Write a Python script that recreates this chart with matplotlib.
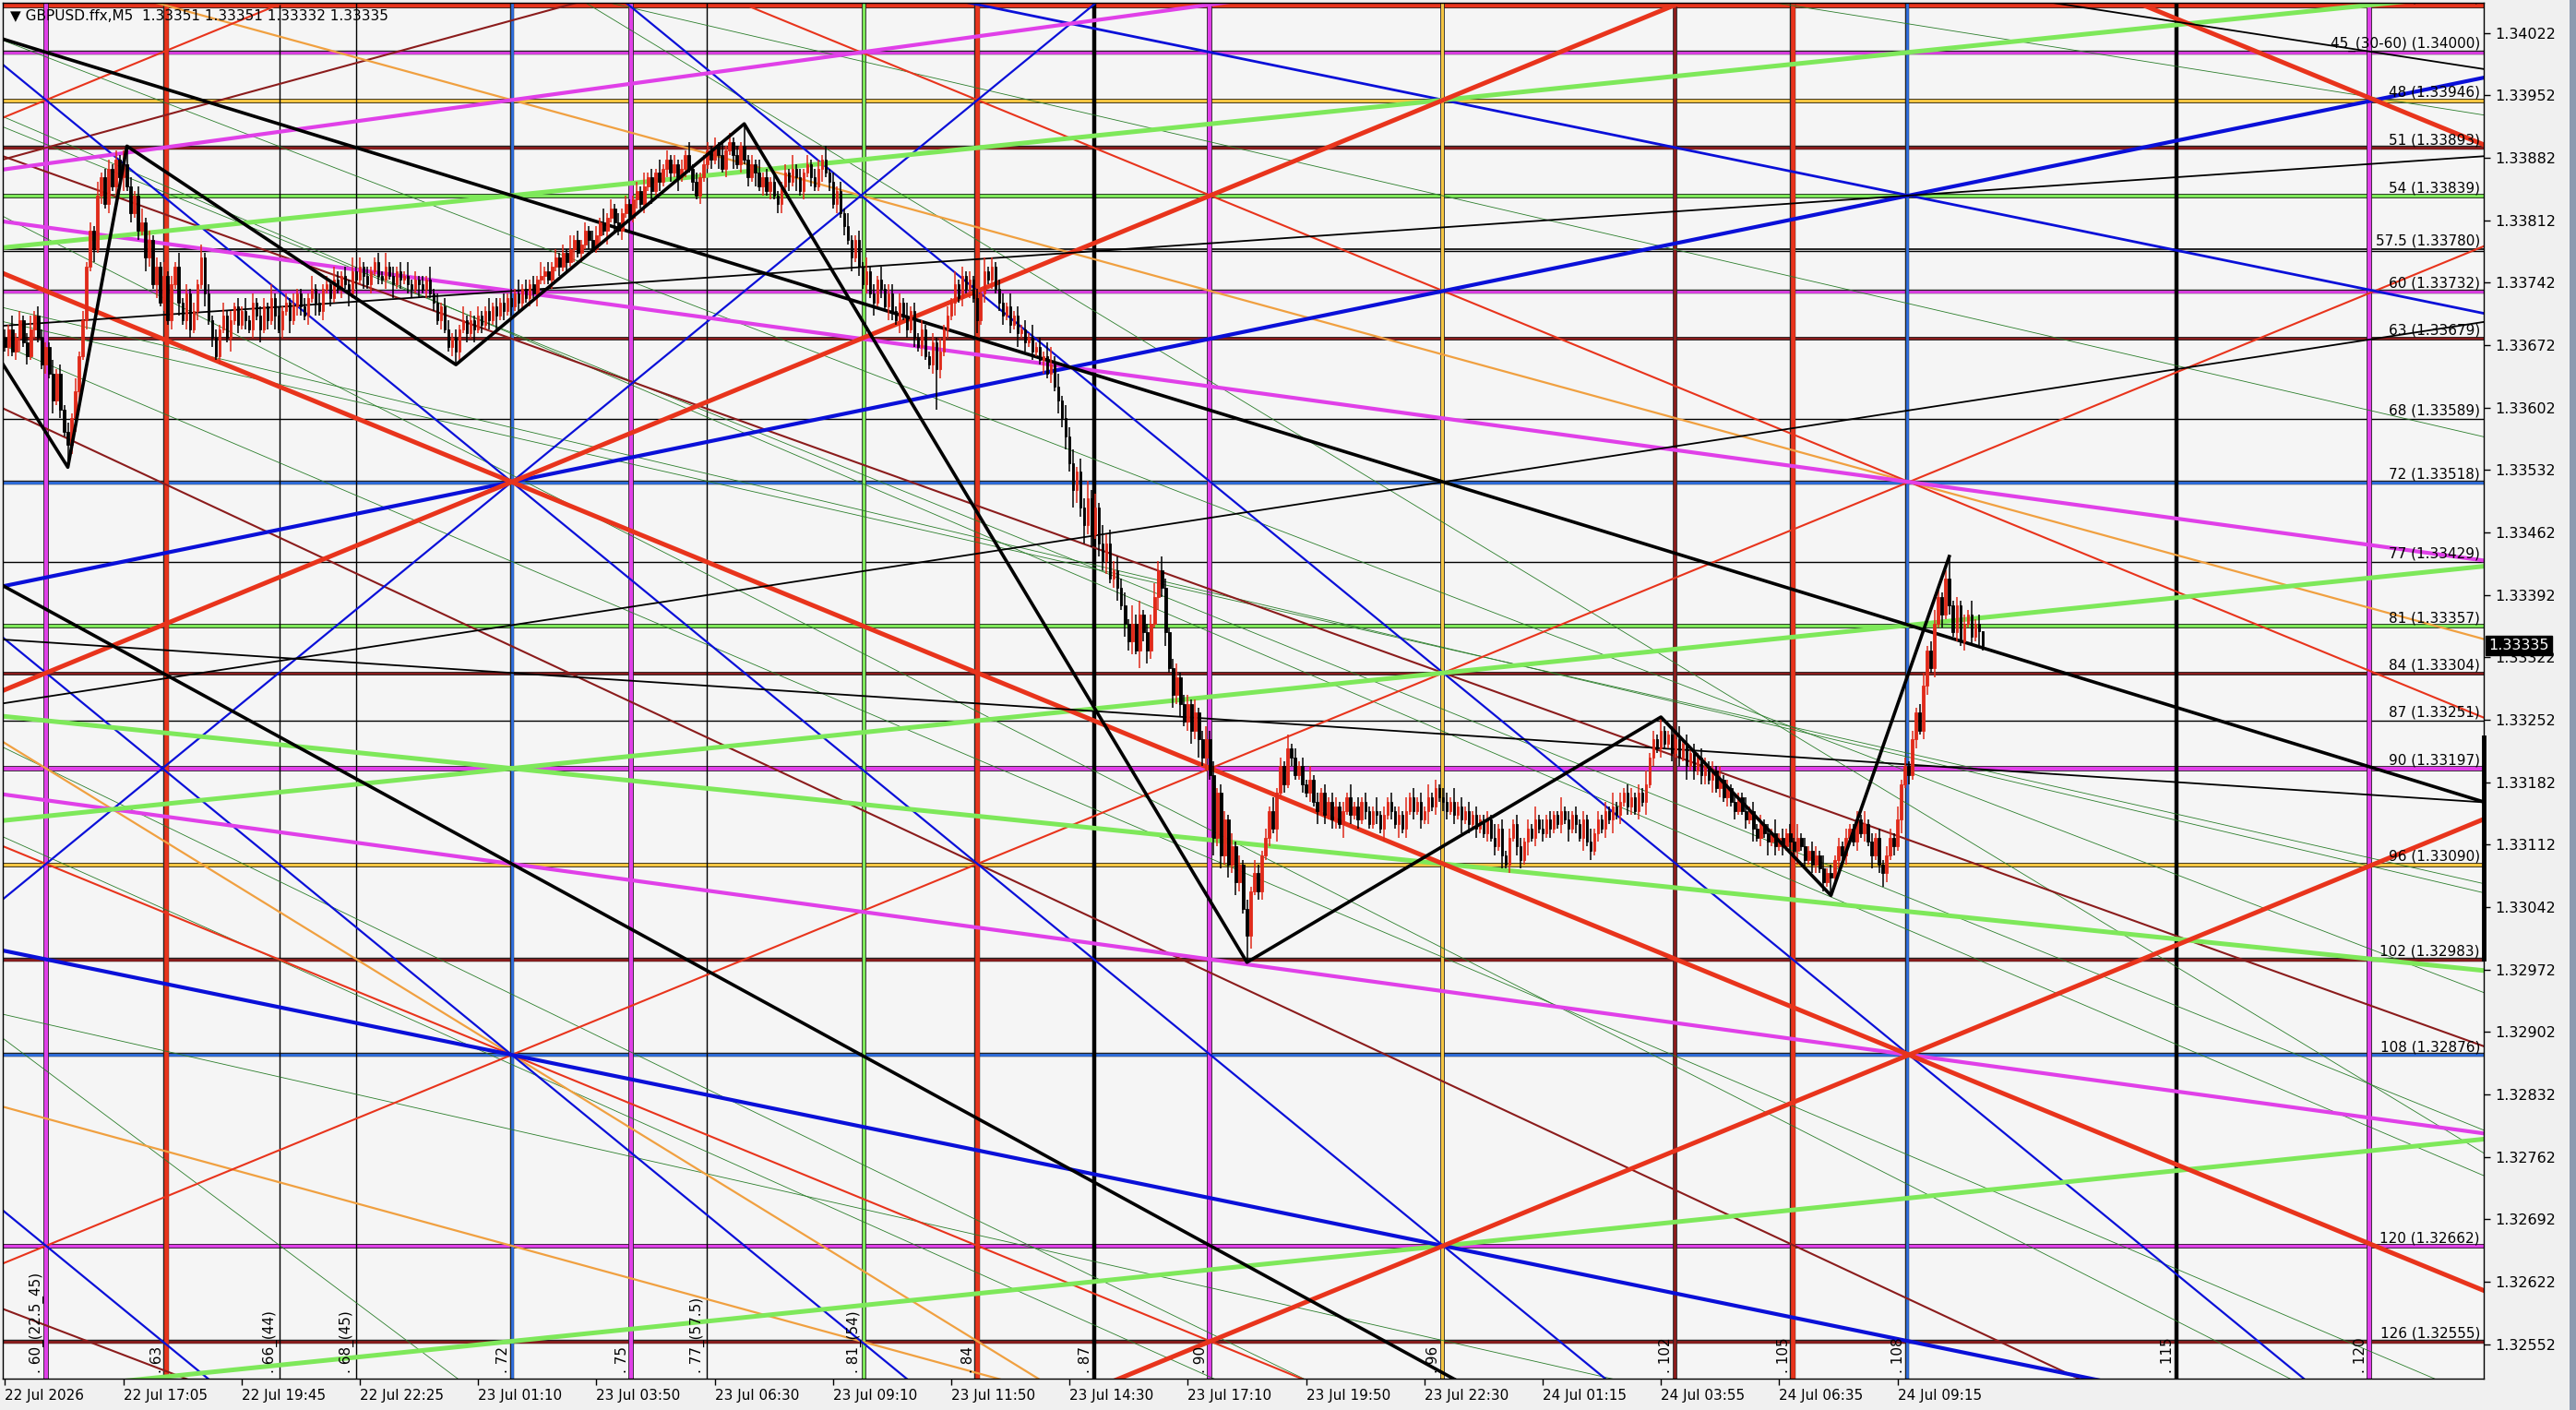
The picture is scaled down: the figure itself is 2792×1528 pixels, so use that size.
import numpy as np
import matplotlib
matplotlib.use("Agg")
import matplotlib.pyplot as plt
from matplotlib import patheffects as pe
from matplotlib.patches import Rectangle
from matplotlib.transforms import blended_transform_factory

# ---- GBPUSD M5 candles, closes in points above 1.33000 ----
open0 = 680
closes = [
    670, 690, 665, 680, 700, 675, 660, 690, 705, 680,
    650, 670, 640, 610, 640, 600, 575, 560, 590, 620,
    660, 700, 760, 800, 780, 840, 860, 830, 870, 850,
    880, 860, 875, 850, 820, 840, 800, 810, 770, 790,
    740, 760, 720, 750, 700, 740, 760, 720, 700, 730,
    690, 710, 740, 770, 730, 700, 680, 660, 690, 705,
    680, 700, 715, 695, 710, 700, 690, 720, 705, 690,
    715, 700, 725, 705, 690, 710, 720, 700, 715, 730,
    715, 705, 725, 735, 720, 710, 735, 740, 725, 745,
    735, 750, 740, 730, 755, 745, 760, 750, 740, 755,
    765, 750, 745, 760, 750, 740, 755, 745, 750, 740,
    735, 745, 740, 735, 745, 730, 720, 700, 715, 690,
    670, 680, 665, 690, 700, 685, 700, 690, 705, 695,
    710, 700, 715, 705, 720, 710, 725, 715, 730, 720,
    735, 725, 740, 730, 745, 750, 755, 745, 760, 770,
    760, 775, 765, 780, 790, 775, 785, 800, 790, 780,
    795, 810, 800, 815, 825, 810, 800, 820, 830, 815,
    835, 845, 830, 850, 860, 845, 865, 855, 870, 880,
    865, 875, 860, 870, 885, 870, 855, 840, 860, 875,
    890, 880, 895, 885, 870, 890, 900, 885, 875, 895,
    880, 860, 875, 865, 850, 860, 845, 855, 840, 830,
    850, 865, 855, 870, 860, 845, 865, 875, 860, 850,
    870, 880, 865, 855, 830, 845, 820, 805, 790, 770,
    790, 760, 740, 755, 730, 720, 745, 735, 715, 730,
    710, 700, 720, 705, 690, 710, 680, 670, 690, 660,
    650, 675, 645, 665, 690, 705, 720, 740, 725, 750,
    735, 745, 725, 700, 730, 755, 745, 760, 735, 720,
    705, 715, 695, 705, 685, 690, 675, 680, 665, 670,
    655, 660, 640, 650, 625, 610, 590, 570, 540, 510,
    530, 490, 470, 500, 460, 490, 450, 430, 450, 410,
    420, 400, 380, 360, 340, 360, 330, 370, 350, 330,
    360, 390, 420, 400, 350, 310, 280, 300, 270, 250,
    270, 240, 260, 230, 210, 230, 190, 120, 170, 100,
    140, 90, 110, 70, 90, 40, 10, 60, 80, 60,
    100, 120, 150, 130, 170, 200, 180, 220, 210, 190,
    200, 180, 170, 185, 160, 150, 170, 145, 160, 140,
    155, 135, 150, 165, 145, 155, 140, 160, 150, 135,
    150, 145, 130, 145, 160, 150, 135, 145, 130, 150,
    165, 150, 160, 140, 150, 165, 155, 175, 165, 160,
    150, 160, 145, 155, 140, 150, 135, 145, 130, 140,
    125, 140, 120, 110, 130, 100, 90, 120, 135, 110,
    95, 115, 130, 120, 140, 130, 125, 140, 130, 145,
    135, 150, 140, 130, 145, 135, 120, 140, 115, 105,
    125, 140, 130, 150, 140, 155, 145, 160, 170, 155,
    165, 150, 170, 160, 180, 210, 230, 220, 240, 225,
    235, 215, 230, 210, 225, 200, 215, 195, 210, 190,
    200, 185, 195, 175, 185, 165, 175, 160, 150, 165,
    150, 140, 150, 130, 120, 135, 125, 115, 125, 110,
    120, 110, 125, 115, 105, 120, 110, 95, 105, 90,
    100, 85, 70, 80, 75, 95, 110, 100, 120, 130,
    115, 140, 125, 135, 115, 100, 120, 90, 80, 100,
    120, 110, 140, 180, 200, 190, 230, 260, 240, 290,
    330, 310, 360, 390, 370, 410, 380, 350, 380, 340,
    360, 370, 345, 360, 351, 335,
]
# wick lengths, one digit per bar, in units of 5 points
upper_wicks = """
2131212312 2113121213 1212131221 2134212312 1213121312
1213121213 1212131212 2131212131 1213121213 2121312121
1213121213 1212131212 2121312121 1312121213 1212131212
1213121212 2131212121 1213121312 1212131212 2121312121
5121312121 1213121212 2131212131 1213121312 2121312121
1213121312 1212131212 2131212131 2134231323 1324231423
2323142312 2323212312 2131232312 2131212132 1213121312
1213121212 2121312121 1312121213 1212131212 2131212121
1213121212 2121312121 1312121213 1212131212 2121312131
1213121212 2121312121 1312121213 1212131212 2131212121
1213121212 2131212123 1232125121 213120
"""
lower_wicks = """
1212312121 1213121523 2121312121 2131212132 1312121312
2121312121 1312121213 1213121312 2121312121 1213121312
1212131212 2131212121 1232121312 1213121212 2121312121
2121312121 1213121213 1212131212 2131212121 1213121312
1213121212 2121312121 1312121213 1212131213 2131212121
1292121312 1213121212 2121312121 1312132324 3242313231
2313231423 2132313231 2324231423 2323216312 2121312121
1212131212 2131212121 1213121312 1212131212 2121312121
1212131212 2131212121 1213121312 1212131212 2121312121
1212131212 2131212121 1213121312 1212131212 2121412121
1212131232 1213121212 2121312121 212131
"""

time_labels = ["22 Jul 2026", "22 Jul 17:05", "22 Jul 19:45", "22 Jul 22:25",
               "23 Jul 01:10", "23 Jul 03:50", "23 Jul 06:30", "23 Jul 09:10",
               "23 Jul 11:50", "23 Jul 14:30", "23 Jul 17:10", "23 Jul 19:50",
               "23 Jul 22:30", "24 Jul 01:15", "24 Jul 03:55", "24 Jul 06:35",
               "24 Jul 09:15"]
price_ticks = [1.34022 - 0.0007 * i for i in range(22)]

# zigzag vertices (bar, price)
zz_bars = [-2, 17, 33, 122, 200, 336, 448, 494, 526]
zz_prices = [1.33660, 1.33535, 1.33895, 1.33650, 1.33920, 1.32980, 1.33255, 1.33055, 1.33435]

# ---- Gann square: horizontal levels ----
level_names = ["42", "45_(30-60)", "48", "51", "54", "57.5", "60", "63", "68", "72",
               "77", "81", "84", "87", "90", "96", "102", "108", "120", "126"]
level_prices = [1.34053, 1.34000, 1.33946, 1.33893, 1.33839, 1.33780, 1.33732, 1.33679,
                1.33589, 1.33518, 1.33429, 1.33357, 1.33304, 1.33251, 1.33197, 1.33090,
                1.32983, 1.32876, 1.32662, 1.32555]
# ---- time levels (bar index of vertical lines) ----
time_names = ["60_(22.5_45)", "63", "66_(44)", "68_(45)", "72", "75", "77_(57.5)", "81_(54)",
              "84", "87", "90", "96", "102", "105", "108", "115", "120"]
time_bars = [11.1, 43.6, 74.2, 95.1, 137.3, 169.3, 189.8, 232.3, 263.1, 294.6,
             325.8, 388.9, 451.8, 483.6, 514.5, 587.6, 639.6]

# diagonal Gann lines: (time count, level count, slope in levels per time count)
red_thick = [(72, 72, 1), (72, 72, -1), (120, 48, 1), (108, 108, -1)]
red_thin = [(60, 48, -1), (84, 48, 1), (108, 72, -1), (72, 108, 1)]
blue_thick = [(72, 72, -0.5), (72, 108, 0.5)]
blue_mid = [(90, 45, 0.5)]
blue_thin = [(72, 72, 2), (72, 72, -2), (96, 84, 2), (72, 108, 2), (60, 120, 2)]
magenta_lines = [(72, 48, -1 / 3), (72, 60, 1 / 3), (72, 96, 1 / 3)]
green_lines = [(72, 54, -0.25), (72, 90, -0.25), (72, 90, 0.25), (72, 126, -0.25)]
orange_lines = [(72, 48, 2 / 3), (72, 108, 1.5), (72, 120, 2 / 3)]
brown_lines = [(72, 63, 0.875), (84, 96, 1.14), (60, 125, 0.93), (60, 51, -2 / 3)]
black_thick = [(72, 54, 0.75), (72, 96, 4 / 3)]
black_thin = [(72, 84, 0.16), (96, 72, -0.375), (72, 60, -1 / 6), (120, 45, 0.375)]
# thin dark green lines: two points each (t1, m1, t2, m2)
dkgreen_lines = [(80.2, 45.1, 122.7, 69.1), (105.1, 42.1, 122.7, 48.9), (101.4, 85.5, 123.3, 98.1),
                 (102.8, 84.6, 123.3, 114.9), (58.8, 94.2, 80.7, 118.1), (58.8, 105.4, 80.7, 117.5),
                 (58.8, 106.8, 70.8, 128.7), (80.2, 64.2, 102.1, 84.7), (101.4, 108.0, 118.1, 128.7),
                 (80.2, 73.7, 102.1, 85.8), (80.2, 85.5, 102.1, 108.2), (80.2, 113.9, 92.7, 128.7),
                 (101.4, 93.3, 123.3, 116.1), (58.8, 49.6, 80.7, 71.2)]

RED = "#e8341c"
MAG = "#e040e8"
GOLD = "#f5c542"
BROWN = "#8b1c1c"
LGREEN = "#7ee85a"
LBLUE = "#2f6fe0"
DBLUE = "#0a10d8"
ORANGE = "#f0a040"
DGREEN = "#2a7d2a"


def m2price(m):
    return 1.34803 - 0.0001784 * np.asarray(m, dtype=float)


fig = plt.figure(figsize=(27.92, 15.28), dpi=100, facecolor="#f0f0f0")
ax = fig.add_axes([3 / 2792, 34 / 1528, 2689 / 2792, 1491 / 1528])
ax.set_facecolor("#f5f5f5")
ax.set_xlim(-0.6, 670.6)
ax.set_ylim(1.325133, 1.340557)
for s in ax.spines.values():
    s.set_color("black")
    s.set_linewidth(1)

edge_x = np.array([-10.0, 690.0])
edge_t = 59 + (edge_x - 0.6) / 10.5


def draw_rays(group, color, lw):
    for t0, m0, k in group:
        m = m0 + k * (edge_t - t0)
        ax.plot(edge_x, m2price(m), color=color, lw=lw, zorder=2, solid_capstyle="butt")


# horizontal levels
h_styles = {"42": (RED, 3.2), "45_(30-60)": (MAG, 2), "48": (GOLD, 2.4), "51": (BROWN, 2),
            "54": (LGREEN, 2.4), "57.5": ("black", 1.2), "60": (MAG, 2), "63": (BROWN, 1.6),
            "68": ("black", 1), "72": (LBLUE, 2), "77": ("black", 1), "81": (LGREEN, 2.4),
            "84": (BROWN, 1.6), "87": ("black", 1), "90": (MAG, 3), "96": (GOLD, 2.4),
            "102": (BROWN, 2), "108": (LBLUE, 2), "120": (MAG, 2.4), "126": (BROWN, 2)}
hx = blended_transform_factory(ax.transAxes, ax.transData)
for name, p in zip(level_names, level_prices):
    col, lw = h_styles[name]
    fx = None if col == "black" else [pe.Stroke(linewidth=lw + 1.2, foreground="#222222"), pe.Normal()]
    ax.axhline(p, color=col, lw=lw, zorder=1.5, path_effects=fx)
    if name == "57.5":
        ax.axhline(p - 0.000025, color="black", lw=1, zorder=1.5)
    ax.text(0.9985, p + 0.000012, f"{name} ({p:.5f})", transform=hx, ha="right", va="bottom",
            fontsize=11, color="black", zorder=6, clip_on=True)

# vertical time lines
v_styles = {"60_(22.5_45)": (MAG, 3), "63": (RED, 3.4), "66_(44)": ("black", 1), "68_(45)": ("black", 1),
            "72": (LBLUE, 2), "75": (MAG, 3), "77_(57.5)": ("black", 1), "81_(54)": (LGREEN, 2.2),
            "84": (RED, 3.4), "87": ("black", 3.2), "90": (MAG, 3), "96": (GOLD, 2.2),
            "102": (BROWN, 2.2), "105": (RED, 3.4), "108": (LBLUE, 2), "115": ("black", 3.2),
            "120": (MAG, 3)}
vx = blended_transform_factory(ax.transData, ax.transAxes)
for name, b in zip(time_names, time_bars):
    col, lw = v_styles[name]
    fx = None if col == "black" else [pe.Stroke(linewidth=lw + 1.2, foreground="#222222"), pe.Normal()]
    ax.axvline(b, color=col, lw=lw, zorder=1.5, path_effects=fx)
    ax.text(b - 0.5, 0.004, ". " + name, transform=vx, rotation=90, ha="right", va="bottom",
            fontsize=11, color="black", zorder=6)

# diagonals
for t1, m1, t2, m2 in dkgreen_lines:
    k = (m2 - m1) / (t2 - t1)
    draw_rays([(t1, m1, k)], DGREEN, 0.6)
draw_rays(brown_lines, BROWN, 1.5)
draw_rays(orange_lines, ORANGE, 1.6)
draw_rays(red_thin, RED, 1.5)
draw_rays(blue_thin, DBLUE, 1.6)
draw_rays(blue_mid, DBLUE, 2.0)
draw_rays(magenta_lines, MAG, 3.0)
draw_rays(green_lines, LGREEN, 3.6)
draw_rays(blue_thick, DBLUE, 3.0)
draw_rays(red_thick, RED, 3.6)
draw_rays(black_thin, "black", 1.3)
draw_rays(black_thick, "black", 2.6)

# candles
c_pts = np.array(closes, dtype=float)
o_pts = np.r_[open0, c_pts[:-1]]
up = [int(ch) for grp in upper_wicks.split() for ch in grp]
dn = [int(ch) for grp in lower_wicks.split() for ch in grp]
n = len(c_pts)
up = np.array((up + [1] * n)[:n]) * 5
dn = np.array((dn + [1] * n)[:n]) * 5
hi_pts = np.maximum(o_pts, c_pts) + up
lo_pts = np.minimum(o_pts, c_pts) - dn
o = 1.33 + o_pts / 1e5
c = 1.33 + c_pts / 1e5
hi = 1.33 + hi_pts / 1e5
lo = 1.33 + lo_pts / 1e5
x = np.arange(n)
cols = np.where(c >= o, "#e02a1a", "black")
ax.vlines(x, lo, hi, colors=cols, lw=1.1, zorder=3)
body_h = np.where(np.abs(c - o) < 0.000005, 0.000005, c - o)
ax.bar(x, body_h, bottom=o, width=0.6, color=cols, edgecolor=cols, lw=0.6, zorder=3)

# zigzag
ax.plot(zz_bars, zz_prices, color="black", lw=2.6, zorder=4)

# axes, ticks
ax.yaxis.tick_right()
ax.set_yticks(price_ticks)
ax.set_yticklabels([f"{v:.5f}" for v in price_ticks])
ax.set_xticks(np.arange(0, 32 * len(time_labels), 32))
ax.set_xticklabels(time_labels, ha="left")
ax.tick_params(axis="y", direction="out", length=5, width=1, labelsize=11.5, pad=4, colors="black")
ax.tick_params(axis="x", direction="out", length=5, width=1, labelsize=11, pad=3, colors="black")

# header
ax.text(0.003, 0.995, "\u25bc GBPUSD.ffx,M5  1.33351 1.33351 1.33332 1.33335", transform=ax.transAxes,
        ha="left", va="top", fontsize=11, color="black", zorder=7)

# current price marker and range bar at right edge
ax.text(1.002, 1.33335, "1.33335", transform=hx, ha="left", va="center", fontsize=11.5, color="white",
        zorder=8, clip_on=False, bbox=dict(boxstyle="square,pad=0.2", fc="black", ec="black"))
ax.plot([1.0, 1.0], [1.32984, 1.33232], transform=hx, color="black", lw=3.5, clip_on=False, zorder=8)

fig.patches.append(Rectangle((2785 / 2792, 0), 7 / 2792, 1, transform=fig.transFigure,
                             facecolor="#8c9ab0", edgecolor="none"))

fig.savefig("out.png", dpi=100, facecolor=fig.get_facecolor())
